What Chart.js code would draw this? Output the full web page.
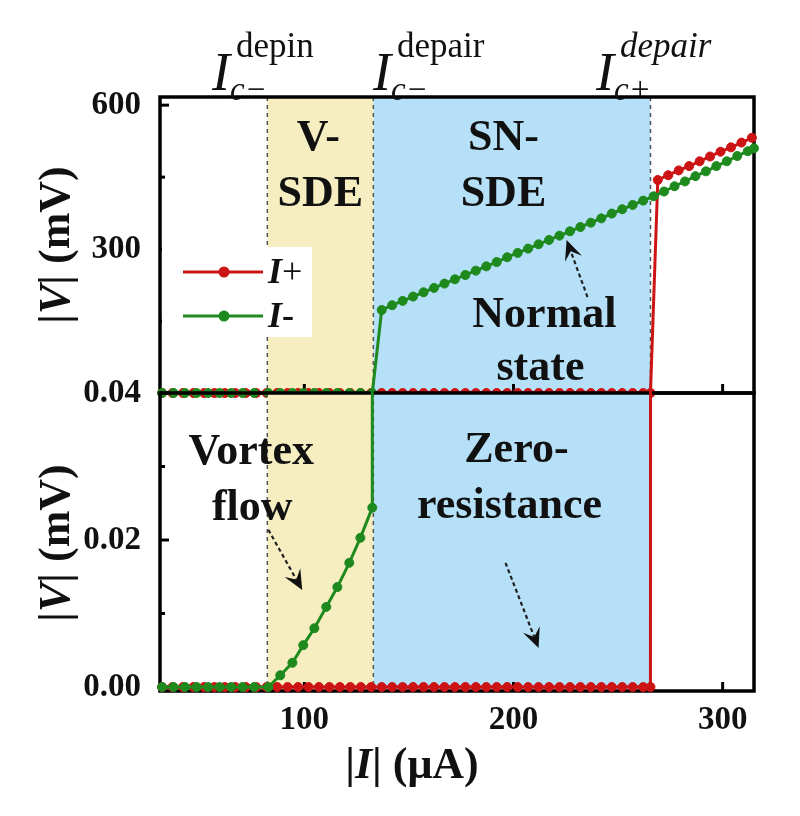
<!DOCTYPE html>
<html>
<head>
<meta charset="utf-8">
<script src="https://cdn.jsdelivr.net/npm/chart.js"></script>
<style>
html, body { margin: 0; padding: 0; background: #fff; }
#wrap { position: relative; width: 800px; height: 816px; }
#wrap canvas { position: absolute; left: 0; top: 0; }
</style>
</head>
<body>
<div id="wrap">
  <canvas id="topPanel" width="800" height="816"></canvas>
  <canvas id="bottomPanel" width="800" height="816"></canvas>
</div>
<script>
// values (current in µA, voltage in mV)
const iPlusCurrent = [32, 37, 42, 47, 52, 57, 62, 67, 72, 77, 82, 87, 92, 97, 102, 107, 112, 117, 122, 127,
    132, 137, 142, 147, 152, 157, 162, 167, 172, 177, 182, 187, 192, 197, 202, 207, 212, 217, 222, 227,
    232, 237, 242, 247, 252, 257, 262, 265.5, 269, 274, 279, 284, 289, 294, 299, 304, 309, 314];
const iPlusVoltage = [0, 0, 0, 0, 0, 0, 0, 0, 0, 0, 0, 0,
    0, 0, 0, 0, 0, 0, 0, 0, 0, 0, 0, 0,
    0, 0, 0, 0, 0, 0, 0, 0, 0, 0, 0, 0,
    0, 0, 0, 0, 0, 0, 0, 0, 0, 0, 0, 0,
    444, 454, 464, 473, 483, 493, 503, 512, 522, 532];

const iMinusCurrent = [32, 37.5, 43, 48.5, 54, 59.5, 65, 70.5, 76, 82.8,
    88.5, 94.3, 99.5, 104.8, 110.5, 115.8, 121.5, 126.8, 132.5,
    137, 142, 147, 152, 157, 162, 167, 172, 177, 182, 187, 192, 197, 202, 207, 212, 217, 222, 227,
    232, 237, 242, 247, 252, 257, 262, 267, 272, 277, 282, 287, 292, 297, 302, 307, 312, 315];
const iMinusVoltage = [0, 0, 0, 0, 0, 0, 0, 0, 0, 0,
    0.0016, 0.0033, 0.0057, 0.0080, 0.0109, 0.0136, 0.0169, 0.0203, 0.0244,
    173, 183, 192, 201, 210, 219, 228, 237, 246, 255, 264, 273, 283, 292, 301, 310, 319, 328, 337,
    346, 355, 364, 374, 383, 392, 401, 410, 420, 431, 441, 452, 462, 473, 483, 494, 504, 510];

const regionEdges = [82.3, 133, 265.5]; // Ic-depin, Ic-depair, Ic+depair
const xTicks = [100, 200, 300];
const topTicks = [300, 600];
const topMinorTicks = [150, 450];
const bottomTicks = [0, 0.02, 0.04];
const bottomMinorTicks = [0.01, 0.03];

const RED = '#cc1414';
const GREEN = '#1e8a1e';
const SERIF = '"Liberation Serif", "Times New Roman", serif';

const toPoints = (xs, ys) => xs.map((x, i) => ({ x: x, y: ys[i] }));

// green (I-) is drawn over red (I+), as in the figure
const datasets = () => [
    {
        label: 'I+', data: toPoints(iPlusCurrent, iPlusVoltage), order: 1,
        borderColor: RED, backgroundColor: RED, borderWidth: 3,
        pointRadius: 4.5, pointBorderWidth: 1, tension: 0,
        clip: { left: 5, right: 5, top: 5, bottom: 5 }
    },
    {
        label: 'I-', data: toPoints(iMinusCurrent, iMinusVoltage), order: 0,
        borderColor: GREEN, backgroundColor: GREEN, borderWidth: 3,
        pointRadius: 4.5, pointBorderWidth: 1, tension: 0,
        clip: { left: 5, right: 5, top: 5, bottom: 5 }
    }
];

// text made of runs with different styles, centred on x
function drawRuns(ctx, runs, x, y, align) {
    let w = 0;
    runs.forEach(r => { ctx.font = r.font; w += ctx.measureText(r.text).width; });
    let cx = align === 'left' ? x : x - w / 2;
    ctx.textAlign = 'left';
    ctx.textBaseline = 'alphabetic';
    runs.forEach(r => {
        ctx.font = r.font;
        ctx.fillText(r.text, cx, y);
        cx += ctx.measureText(r.text).width;
    });
}

function dashedArrow(ctx, x1, y1, x2, y2) {
    const ang = Math.atan2(y2 - y1, x2 - x1);
    const headLen = 20;
    ctx.save();
    ctx.strokeStyle = '#222';
    ctx.fillStyle = '#111';
    ctx.lineWidth = 2.2;
    ctx.setLineDash([4, 3]);
    ctx.beginPath();
    ctx.moveTo(x1, y1);
    ctx.lineTo(x2 - Math.cos(ang) * headLen * 0.6, y2 - Math.sin(ang) * headLen * 0.6);
    ctx.stroke();
    ctx.setLineDash([]);
    ctx.translate(x2, y2);
    ctx.rotate(ang);
    ctx.beginPath();
    ctx.moveTo(0, 0);
    ctx.lineTo(-headLen, -9);
    ctx.lineTo(-headLen * 0.6, 0);
    ctx.lineTo(-headLen, 9);
    ctx.closePath();
    ctx.fill();
    ctx.restore();
}

function makeDecor(majorY, minorY) {
    return {
        id: 'decor',
        beforeDatasetsDraw(chart) {
            const { ctx, chartArea: a, scales: { x, y } } = chart;
            const e = regionEdges.map(v => x.getPixelForValue(v));
            ctx.save();
            ctx.fillStyle = '#f6eec1';
            ctx.fillRect(e[0], a.top, e[1] - e[0], a.bottom - a.top);
            ctx.fillStyle = '#b5e0f8';
            ctx.fillRect(e[1], a.top, e[2] - e[1], a.bottom - a.top);
            ctx.strokeStyle = '#555';
            ctx.lineWidth = 1.5;
            ctx.setLineDash([4, 4]);
            e.forEach(px => {
                ctx.beginPath();
                ctx.moveTo(px, a.top);
                ctx.lineTo(px, a.bottom);
                ctx.stroke();
            });
            ctx.setLineDash([]);
            // frame
            ctx.strokeStyle = '#000';
            ctx.lineWidth = 3.5;
            ctx.strokeRect(a.left, a.top, a.right - a.left, a.bottom - a.top);
            // inward ticks
            ctx.lineWidth = 3;
            majorY.forEach(v => {
                const py = y.getPixelForValue(v);
                ctx.beginPath(); ctx.moveTo(a.left, py); ctx.lineTo(a.left + 9, py); ctx.stroke();
            });
            minorY.forEach(v => {
                const py = y.getPixelForValue(v);
                ctx.beginPath(); ctx.moveTo(a.left, py); ctx.lineTo(a.left + 5, py); ctx.stroke();
            });
            xTicks.forEach(v => {
                const px = x.getPixelForValue(v);
                ctx.beginPath(); ctx.moveTo(px, a.bottom); ctx.lineTo(px, a.bottom - 9); ctx.stroke();
            });
            ctx.restore();
        }
    };
}

const yTitle = (ctx, cx, cy) => {
    ctx.save();
    ctx.translate(cx, cy);
    ctx.rotate(-Math.PI / 2);
    ctx.fillStyle = '#111';
    drawRuns(ctx, [
        { text: '|', font: 'bold 44px ' + SERIF },
        { text: 'V', font: 'italic bold 44px ' + SERIF },
        { text: '| (mV)', font: 'bold 44px ' + SERIF }
    ], 0, 15);
    ctx.restore();
};

const bigText = 'bold 44px ' + SERIF;

const topText = {
    id: 'topText',
    afterDatasetsDraw(chart) {
        const { ctx, chartArea: a, scales: { x, y } } = chart;
        const P = (vx, vy) => [x.getPixelForValue(vx), y.getPixelForValue(vy)];
        ctx.save();
        ctx.fillStyle = '#111';
        [['V-', 106.7, 506], ['SDE', 107.7, 390], ['SN-', 195.2, 506], ['SDE', 195.2, 390],
         ['Normal', 214.8, 137], ['state', 212.9, 27]].forEach(t => {
            const p = P(t[1], t[2]);
            drawRuns(ctx, [{ text: t[0], font: bigText }], p[0], p[1]);
        });
        const s = P(235.4, 200), e = P(225.4, 319);
        dashedArrow(ctx, s[0], s[1], e[0], e[1]);

        // legend box
        const lx = a.left, ly = a.top + 150;
        ctx.fillStyle = '#fff';
        ctx.fillRect(lx + 2, ly, 150, 90);
        chart.data.datasets.forEach((ds, i) => {
            const yy = ly + 25 + i * 44;
            ctx.strokeStyle = ds.borderColor;
            ctx.lineWidth = 3;
            ctx.beginPath(); ctx.moveTo(lx + 23, yy); ctx.lineTo(lx + 103, yy); ctx.stroke();
            ctx.fillStyle = ds.borderColor;
            ctx.beginPath(); ctx.arc(lx + 64, yy, 5.5, 0, Math.PI * 2); ctx.fill();
            ctx.fillStyle = '#111';
            drawRuns(ctx, [
                { text: 'I', font: 'italic bold 36px ' + SERIF },
                { text: ds.label.slice(1), font: (i === 0 ? '' : 'bold ') + '36px ' + SERIF }
            ], lx + 108, yy + 11, 'left');
        });

        // critical current labels above the panel
        const crit = [
            { ix: 212, sup: 'depin', supItalic: false, sub: 'c\u2212' },
            { ix: 373, sup: 'depair', supItalic: false, sub: 'c\u2212' },
            { ix: 596, sup: 'depair', supItalic: true, sub: 'c+' }
        ];
        crit.forEach(c => {
            ctx.font = 'italic 54px ' + SERIF;
            ctx.textAlign = 'left';
            ctx.textBaseline = 'alphabetic';
            ctx.fillText('I', c.ix, 90);
            const iw = ctx.measureText('I').width;
            ctx.font = (c.supItalic ? 'italic ' : '') + '35px ' + SERIF;
            ctx.fillText(c.sup, c.ix + iw + 6, 57);
            ctx.font = 'italic 33px ' + SERIF;
            ctx.fillText(c.sub, c.ix + iw, 100);
        });

        yTitle(ctx, 54, 245);
        ctx.restore();
    }
};

const bottomText = {
    id: 'bottomText',
    afterDatasetsDraw(chart) {
        const { ctx, scales: { x, y } } = chart;
        const P = (vx, vy) => [x.getPixelForValue(vx), y.getPixelForValue(vy)];
        ctx.save();
        ctx.fillStyle = '#111';
        [['Vortex', 74.6, 0.0303], ['flow', 75.1, 0.0227], ['Zero-', 201.4, 0.0306],
         ['resistance', 198.1, 0.0230]].forEach(t => {
            const p = P(t[1], t[2]);
            drawRuns(ctx, [{ text: t[0], font: bigText }], p[0], p[1]);
        });
        let s = P(82.8, 0.0214), e = P(99, 0.0132);
        dashedArrow(ctx, s[0], s[1], e[0], e[1]);
        s = P(196.2, 0.0169); e = P(212, 0.0053);
        dashedArrow(ctx, s[0], s[1], e[0], e[1]);

        yTitle(ctx, 54, 543);
        drawRuns(ctx, [
            { text: '|', font: 'bold 44px ' + SERIF },
            { text: 'I', font: 'italic bold 44px ' + SERIF },
            { text: '| (\u03bcA)', font: 'bold 44px ' + SERIF }
        ], 412, 778);
        ctx.restore();
    }
};

const tickFont = { family: SERIF, size: 33, weight: 'bold' };

function yScale(min, max, ticks, labels) {
    return {
        type: 'linear', min: min, max: max,
        grid: { display: false }, border: { display: false },
        afterFit: s => { s.width = 160; },
        afterBuildTicks: s => { s.ticks = ticks.map(v => ({ value: v })); },
        ticks: {
            font: tickFont, color: '#111', padding: 11,
            callback: v => labels[ticks.indexOf(v)]
        }
    };
}

Chart.defaults.font.family = SERIF;

new Chart(document.getElementById('topPanel'), {
    type: 'line',
    data: { datasets: datasets() },
    options: {
        responsive: false, animation: false,
        layout: { padding: { left: 0, right: 46, top: 97, bottom: 423 } },
        plugins: { legend: { display: false }, tooltip: { enabled: false } },
        scales: {
            x: { type: 'linear', min: 31, max: 315, display: false },
            y: yScale(0, 617, topTicks, ['300', '600'])
        }
    },
    plugins: [makeDecor(topTicks, topMinorTicks), topText]
});

new Chart(document.getElementById('bottomPanel'), {
    type: 'line',
    data: { datasets: datasets() },
    options: {
        responsive: false, animation: false,
        layout: { padding: { left: 0, right: 46, top: 393, bottom: 0 } },
        plugins: { legend: { display: false }, tooltip: { enabled: false } },
        scales: {
            x: {
                type: 'linear', min: 31, max: 315,
                grid: { display: false }, border: { display: false },
                afterFit: s => { s.height = 125; },
                afterBuildTicks: s => { s.ticks = xTicks.map(v => ({ value: v })); },
                ticks: { font: tickFont, color: '#111', padding: 2, maxRotation: 0 }
            },
            y: yScale(-0.00054, 0.04, bottomTicks, ['0.00', '0.02', '0.04'])
        }
    },
    plugins: [makeDecor(bottomTicks, bottomMinorTicks), bottomText]
});
</script>
</body>
</html>
